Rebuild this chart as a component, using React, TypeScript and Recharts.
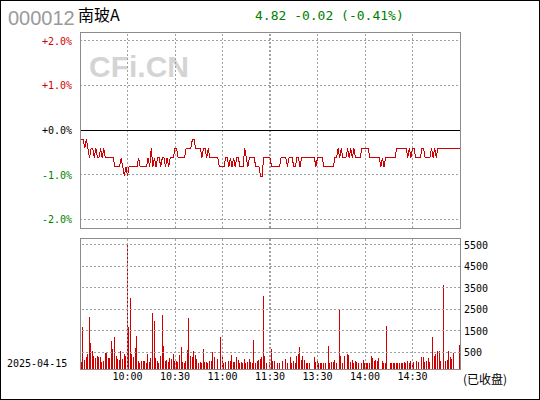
import React from "react";
import { LineChart, Line, BarChart, Bar, XAxis, YAxis, ReferenceLine } from "recharts";

const PREV_CLOSE = 4.84;
const LAST_PRICE = 4.82;
const STOCK_CODE = "000012";
const STOCK_NAME = "南玻A";
const TRADE_DATE = "2025-04-15";

// minute prices, 9:30 -> 11:30 then 13:01 -> 15:00 (241 points)
const PRICES = [
    4.83, 4.83, 4.83, 4.82, 4.83, 4.82, 4.81, 4.82, 4.82, 4.81,
    4.82, 4.81, 4.81, 4.82, 4.81, 4.82, 4.81, 4.81, 4.81, 4.81,
    4.81, 4.81, 4.80, 4.80, 4.80, 4.80, 4.81, 4.80, 4.79, 4.80,
    4.79, 4.80, 4.80, 4.80, 4.80, 4.80, 4.80, 4.81, 4.80, 4.80,
    4.80, 4.80, 4.80, 4.81, 4.80, 4.82, 4.80, 4.81, 4.80, 4.81,
    4.81, 4.80, 4.81, 4.81, 4.80, 4.81, 4.80, 4.81, 4.81, 4.81,
    4.82, 4.82, 4.81, 4.81, 4.81, 4.81, 4.81, 4.82, 4.82, 4.82,
    4.82, 4.83, 4.83, 4.82, 4.82, 4.82, 4.82, 4.81, 4.82, 4.82,
    4.81, 4.82, 4.81, 4.81, 4.81, 4.81, 4.81, 4.81, 4.80, 4.80,
    4.80, 4.80, 4.81, 4.81, 4.80, 4.81, 4.80, 4.81, 4.80, 4.81,
    4.81, 4.80, 4.80, 4.80, 4.82, 4.81, 4.80, 4.81, 4.81, 4.81,
    4.81, 4.80, 4.80, 4.80, 4.79, 4.79, 4.81, 4.81, 4.81, 4.81,
    4.81, 4.80, 4.80, 4.80, 4.80, 4.80, 4.80, 4.81, 4.81, 4.81,
    4.81, 4.80, 4.81, 4.81, 4.81, 4.80, 4.80, 4.81, 4.81, 4.80,
    4.81, 4.81, 4.81, 4.81, 4.81, 4.81, 4.81, 4.81, 4.81, 4.80,
    4.81, 4.81, 4.81, 4.81, 4.80, 4.80, 4.80, 4.80, 4.80, 4.80,
    4.80, 4.81, 4.81, 4.82, 4.81, 4.82, 4.81, 4.81, 4.81, 4.82,
    4.81, 4.82, 4.81, 4.82, 4.81, 4.81, 4.81, 4.81, 4.82, 4.82,
    4.82, 4.82, 4.82, 4.81, 4.81, 4.81, 4.81, 4.81, 4.81, 4.81,
    4.80, 4.81, 4.80, 4.81, 4.81, 4.81, 4.81, 4.81, 4.81, 4.81,
    4.82, 4.82, 4.82, 4.82, 4.82, 4.82, 4.82, 4.81, 4.82, 4.81,
    4.82, 4.82, 4.81, 4.81, 4.81, 4.81, 4.82, 4.82, 4.81, 4.81,
    4.81, 4.81, 4.82, 4.81, 4.82, 4.81, 4.82, 4.82, 4.82, 4.82,
    4.82, 4.82, 4.82, 4.82, 4.82, 4.82, 4.82, 4.82, 4.82, 4.82,
    4.82,
];

// minute volume (lots), 9:31 -> 15:00 (240 bars)
const VOLUMES = [
    50, 1680, 143, 283, 422, 2146, 935, 562, 330, 236,
    330, 283, 283, 50, 96, 469, 515, 236, 236, 1028,
    655, 1214, 330, 190, 143, 562, 190, 422, 330, 5547,
    1680, 3031, 422, 283, 702, 1261, 96, 3, 96, 96,
    96, 3, 422, 50, 236, 2333, 1960, 236, 96, 3,
    330, 2240, 795, 96, 143, 50, 236, 190, 422, 96,
    96, 50, 376, 748, 50, 3, 96, 609, 2100, 330,
    283, 562, 376, 190, 3, 50, 3, 655, 50, 50,
    3, 96, 96, 515, 283, 0, 190, 0, 1214, 283,
    3, 50, 0, 96, 96, 376, 50, 50, 283, 143,
    3, 50, 3, 190, 3, 50, 190, 50, 3, 1074,
    3, 96, 143, 190, 283, 3125, 330, 3, 0, 50,
    655, 96, 96, 0, 3, 3, 0, 96, 0, 190,
    3, 0, 283, 3, 96, 3, 330, 422, 748, 143,
    330, 143, 3, 3, 3, 0, 0, 283, 50, 96,
    3, 3, 3, 3, 3, 0, 795, 3, 50, 50,
    143, 3, 0, 2519, 330, 3, 330, 0, 422, 376,
    50, 143, 3, 96, 50, 3, 0, 3, 143, 3,
    3, 3, 3, 330, 236, 96, 143, 96, 236, 0,
    96, 3, 3, 1727, 0, 3, 3, 3, 3, 3,
    3, 3, 3, 3, 50, 3, 96, 3, 96, 3,
    50, 0, 96, 50, 0, 283, 283, 50, 96, 236,
    50, 0, 1214, 330, 422, 562, 562, 96, 0, 3637,
    96, 143, 562, 283, 190, 469, 0, 0, 0, 842,
];

const PCT_TICKS = [-2, -1, 0, 1, 2];
const PCT_DOMAIN = [-2.2, 2.2];
const VOL_TICKS = [500, 1500, 2500, 3500, 4500, 5500];
const VOL_DOMAIN = [-280, 5826];
const TIME_TICKS = [30, 60, 90, 120, 150, 180, 210];
const TIME_LABELS = ["10:00", "10:30", "11:00", "11:30", "13:30", "14:00", "14:30"];
const SESSION_BREAK = 120;

const RED = "#d00000";
const GREEN = "#008000";
const GRID = "#a0a0a0";
const FRAME = "#8c8c8c";
const MONO = "'DejaVu Sans Mono', monospace";

const priceData = PRICES.map((p, i) => ({ m: i, pct: (p / PREV_CLOSE - 1) * 100 }));
const volData = VOLUMES.map((v, i) => ({ m: i + 1, vol: v }));

const vertLines = TIME_TICKS.flatMap((t) => (t === SESSION_BREAK ? [t - 0.6, t + 0.6] : [t]));

const toneOf = (v: number) => (v > 0 ? RED : v < 0 ? GREEN : "#000");

const PctTick = ({ x, y, payload }: any) => {
    const v = payload.value;
    return (
        <text x={x} y={y} dy={4} textAnchor="end" fill={toneOf(v)} fontSize={10} fontFamily={MONO}>
            {(v >= 0 ? "+" : "") + v.toFixed(1) + "%"}
        </text>
    );
};

const PriceTick = ({ x, y, payload }: any) => {
    const v = payload.value;
    return (
        <text x={x} y={y} dy={4} textAnchor="start" fill={toneOf(v)} fontSize={10} fontFamily={MONO}>
            {(PREV_CLOSE * (1 + v / 100)).toFixed(2)}
        </text>
    );
};

const VolTick = ({ x, y, payload }: any) => (
    <text x={x} y={y} dy={4} textAnchor="start" fill="#000" fontSize={10} fontFamily={MONO}>
        {payload.value}
    </text>
);

const TimeTick = ({ x, y, payload }: any) => (
    <text x={x} y={y} dy={8} textAnchor="middle" fill="#000" fontSize={10} fontFamily={MONO}>
        {TIME_LABELS[TIME_TICKS.indexOf(payload.value)]}
    </text>
);

export default function App() {
    const change = LAST_PRICE - PREV_CLOSE;
    const changePct = (LAST_PRICE / PREV_CLOSE - 1) * 100;

    return (
        <div style={{ position: "relative", width: 540, height: 400, background: "#fff", overflow: "hidden" }}>
            <style>{"body{margin:0}"}</style>

            {/* header, watermark, side labels */}
            <svg width={540} height={400} style={{ position: "absolute", left: 0, top: 0 }}>
                <text x={8} y={25} fontSize={20} fill="#9a9a9a" fontFamily="'Liberation Sans', Arial, sans-serif">{STOCK_CODE}</text>
                <text x={78} y={21} fontSize={16} fill="#000" fontFamily="'Noto Sans CJK SC', sans-serif">{STOCK_NAME}</text>
                <text x={255} y={20} fontSize={13} fill={GREEN} fontFamily={MONO}>
                    {`${LAST_PRICE.toFixed(2)} ${change.toFixed(2)} (${changePct.toFixed(2)}%)`}
                </text>
                <text x={89} y={77} fontSize={30} fontWeight="bold" fill="#d4d4d4" fontFamily="'Liberation Sans', Arial, sans-serif">CFi.CN</text>
                <text x={7} y={367} fontSize={10} fill="#000" fontFamily={MONO}>{TRADE_DATE}</text>
                <text x={463} y={384} fontSize={12} fill="#000" fontFamily="'Noto Sans CJK SC', sans-serif">(已收盘)</text>
            </svg>

            {/* price panel */}
            <div style={{ position: "absolute", left: 0, top: 0 }}>
                <LineChart width={540} height={240} data={priceData} margin={{ top: 32, right: 22, bottom: 12, left: 22 }} style={{ shapeRendering: "crispEdges" }}>
                    <XAxis dataKey="m" type="number" domain={[0, 240]} hide />
                    <YAxis yAxisId="pct" domain={PCT_DOMAIN} ticks={PCT_TICKS} interval={0} width={58} axisLine={false} tickLine={false} tickSize={0} tickMargin={8} tick={PctTick} />
                    <YAxis yAxisId="price" orientation="right" domain={PCT_DOMAIN} ticks={PCT_TICKS} interval={0} width={58} axisLine={false} tickLine={false} tickSize={0} tickMargin={2} tick={PriceTick} />
                    {PCT_TICKS.filter((t) => t !== 0).map((t) => (
                        <ReferenceLine key={"h" + t} yAxisId="pct" y={t} stroke={GRID} strokeDasharray="2 2" />
                    ))}
                    {vertLines.map((t) => (
                        <ReferenceLine key={"v" + t} yAxisId="pct" x={t} stroke={GRID} strokeDasharray="2 2" />
                    ))}
                    <ReferenceLine yAxisId="pct" y={0} stroke="#000" strokeWidth={1} />
                    <Line yAxisId="pct" type="linear" dataKey="pct" stroke={RED} strokeWidth={1} dot={false} isAnimationActive={false} />
                </LineChart>
            </div>

            {/* volume panel */}
            <div style={{ position: "absolute", left: 0, top: 0 }}>
                <BarChart width={540} height={400} data={volData} margin={{ top: 238, right: 22, bottom: 11, left: 80 }} style={{ shapeRendering: "crispEdges" }}>
                    <XAxis dataKey="m" type="number" domain={[0, 240]} ticks={TIME_TICKS} interval={0} height={20} axisLine={false} tickLine={false} tickSize={0} tickMargin={3} tick={TimeTick} />
                    <YAxis orientation="right" domain={VOL_DOMAIN} ticks={VOL_TICKS} interval={0} width={58} axisLine={false} tickLine={false} tickSize={0} tickMargin={4} tick={VolTick} />
                    {VOL_TICKS.map((t) => (
                        <ReferenceLine key={"h" + t} y={t} stroke={GRID} strokeDasharray="2 2" />
                    ))}
                    {vertLines.map((t) => (
                        <ReferenceLine key={"v" + t} x={t} stroke={GRID} strokeDasharray="2 2" />
                    ))}
                    <Bar dataKey={(d: any) => (d.vol > 0 ? [VOL_DOMAIN[0], d.vol] : null)} fill={RED} barSize={1} isAnimationActive={false} />
                </BarChart>
            </div>

            {/* panel frames */}
            <div style={{ position: "absolute", left: 80, top: 32, width: 381, height: 197, boxSizing: "border-box", border: `1px solid ${FRAME}` }} />
            <div style={{ position: "absolute", left: 80, top: 238, width: 381, height: 132, boxSizing: "border-box", border: `1px solid ${FRAME}` }} />
            <div style={{ position: "absolute", left: 0, top: 0, width: 540, height: 400, boxSizing: "border-box", border: "1px solid #000" }} />
        </div>
    );
}
